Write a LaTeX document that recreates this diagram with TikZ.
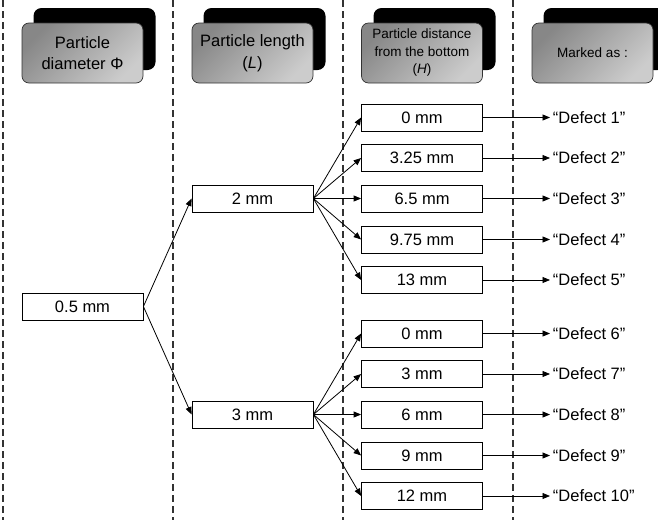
\documentclass[tikz,border=0pt]{standalone}
\usepackage{fontspec}
\setmainfont{Liberation Sans}
\usetikzlibrary{arrows.meta}
\begin{document}
\begin{tikzpicture}[x=1pt,y=-1pt,
  box/.style={draw, line width=0.8pt, minimum width=121pt, minimum height=27pt, inner sep=0pt, fill=white, font=\fontsize{16.5}{19}\selectfont},
  head/.style={draw=black!80, line width=0.7pt, rounded corners=7pt, minimum width=121pt, minimum height=60pt, inner sep=1pt, align=center, top color=black!47, bottom color=black!20, shading angle=45},
  shadowbox/.style={fill=black, rounded corners=8pt, minimum width=122pt, minimum height=62pt, inner sep=0pt},
  headbig/.style={font=\fontsize{16.5}{21.5}\selectfont},
  headsmall/.style={font=\fontsize{13.5}{17.5}\selectfont},
  lbl/.style={anchor=west, inner sep=0pt, font=\fontsize{16.5}{19}\selectfont},
  link/.style={line width=0.8pt, -{Triangle[length=7.5pt,width=6pt]}},
  sep/.style={draw=black!80, line width=1.1pt, dash pattern=on 7pt off 4pt}
]
\useasboundingbox (0,0) rectangle (658,520);
% separators
\draw[sep] (3,0) -- (3,520);
\draw[sep] (173,0) -- (173,520);
\draw[sep] (343,0) -- (343,520);
\draw[sep] (513,0) -- (513,520);
% headers
\node[shadowbox] (s1) at (94.5,39) {};
\node[shadowbox] (s2) at (264.5,39) {};
\node[shadowbox] (s3) at (434.5,39) {};
\node[shadowbox] (s4) at (604.5,39) {};
\node[head,headbig] (h1) at (82.5,53) {Particle\\diameter Φ};
\node[head,headbig] (h2) at (252.5,53) {Particle length\\(\textit{L})};
\node[head,headsmall] (h3) at (422,53) {Particle distance\\from the bottom\\(\textit{H})};
\node[head,headsmall] (h4) at (592.5,53) {Marked as :};
% first level
\node[box] (d) at (82.5,306.5) {0.5 mm};
\node[box] (l2) at (252.5,198.5) {2 mm};
\node[box] (l3) at (252.5,414.5) {3 mm};
\draw[link] (d.east) -- (l2.west);
\draw[link] (d.east) -- (l3.west);
% third level
\foreach \n/\y/\t/\k in {a1/117.5/0 mm/1, a2/158/3.25 mm/2, a3/198.5/6.5 mm/3, a4/239.5/9.75 mm/4, a5/280/13 mm/5}{
  \node[box] (\n) at (422,\y) {\t};
  \draw[link] (l2.east) -- (\n.west);
  \node[lbl] (e\k) at (550,\y) {\,“Defect \k”};
  \draw[link] (\n.east) -- (e\k.west);
}
\foreach \n/\y/\t/\k in {b1/333.5/0 mm/6, b2/374/3 mm/7, b3/414.5/6 mm/8, b4/455.5/9 mm/9, b5/496/12 mm/10}{
  \node[box] (\n) at (422,\y) {\t};
  \draw[link] (l3.east) -- (\n.west);
  \node[lbl] (e\k) at (550,\y) {\,“Defect \k”};
  \draw[link] (\n.east) -- (e\k.west);
}
\end{tikzpicture}
\end{document}
